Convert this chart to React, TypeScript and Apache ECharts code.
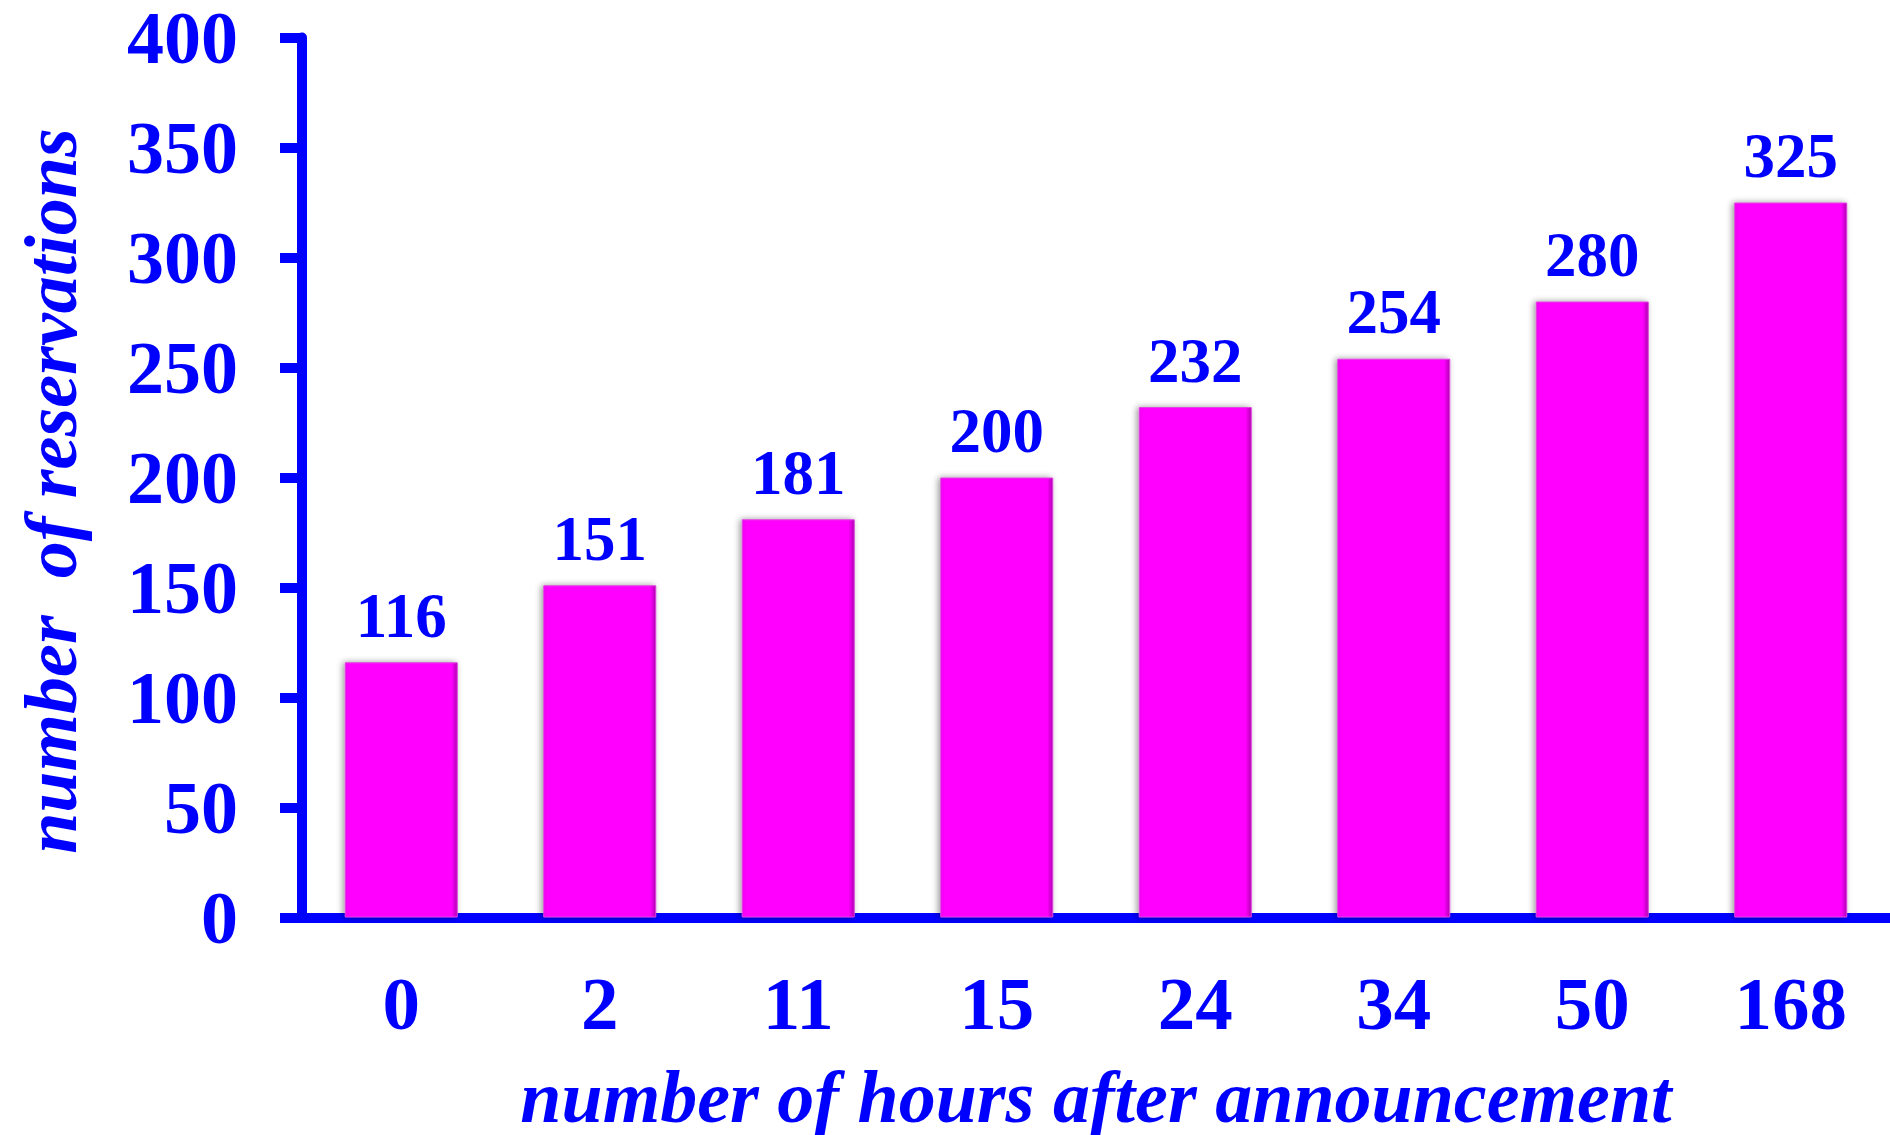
import React, { useEffect, useRef } from "react";
import * as echarts from "echarts";

const categories = ["0", "2", "11", "15", "24", "34", "50", "168"];
const reservations = [116, 151, 181, 200, 232, 254, 280, 325];
const yTicks = { min: 0, max: 400, interval: 50 };
const xTitle = "number of hours after announcement";
const yTitle = "number  of reservations";

const BLUE = "#0000FF";
const FONT = "'Liberation Serif', 'Times New Roman', serif";

export default function App() {
  const ref = useRef<HTMLDivElement>(null);
  useEffect(() => {
    document.body.style.margin = "0";
    const chart = echarts.init(ref.current!, null, { renderer: "svg" });
    chart.setOption({
      animation: false,
      backgroundColor: "#ffffff",
      grid: { left: 302, right: 0, top: 37.5, bottom: 217.5, containLabel: false },
      xAxis: {
        type: "category",
        data: categories,
        axisLine: { show: true, lineStyle: { color: BLUE, width: 10 } },
        axisTick: { show: false },
        axisLabel: {
          color: BLUE,
          fontFamily: FONT,
          fontWeight: "bold",
          fontSize: 75,
          lineHeight: 75,
          margin: 48,
        },
        splitLine: { show: false },
      },
      yAxis: {
        type: "value",
        min: yTicks.min,
        max: yTicks.max,
        interval: yTicks.interval,
        axisLine: { show: true, lineStyle: { color: BLUE, width: 10 } },
        axisTick: { show: true, length: 22, lineStyle: { color: BLUE, width: 10 } },
        axisLabel: {
          color: BLUE,
          fontFamily: FONT,
          fontWeight: "bold",
          fontSize: 74,
          lineHeight: 60,
          margin: 64,
        },
        splitLine: { show: false },
      },
      graphic: [
        {
          type: "text",
          x: 1096,
          y: 1097,
          style: {
            text: xTitle,
            fill: BLUE,
            font: `italic bold 74px ${FONT}`,
            lineHeight: 60,
            textAlign: "center",
            textVerticalAlign: "middle",
          },
        },
        {
          type: "text",
          x: 51,
          y: 491,
          rotation: Math.PI / 2,
          style: {
            text: yTitle,
            fill: BLUE,
            font: `italic bold 74px ${FONT}`,
            textAlign: "center",
            textVerticalAlign: "middle",
          },
        },
      ],
      series: [
        {
          type: "bar",
          data: reservations,
          barWidth: 113,
          itemStyle: {
            color: {
              type: "linear",
              x: 0,
              y: 0,
              x2: 1,
              y2: 0,
              colorStops: [
                { offset: 0, color: "#f000f0" },
                { offset: 0.04, color: "#ff00ff" },
                { offset: 0.95, color: "#ff00ff" },
                { offset: 1, color: "#b000b0" },
              ],
            },
            borderColor: "#e040e0",
            borderWidth: 1,
            shadowColor: "rgba(0,0,0,0.4)",
            shadowBlur: 6,
            shadowOffsetX: -2,
          },
          label: {
            show: true,
            position: "top",
            distance: 15,
            color: BLUE,
            fontFamily: FONT,
            fontWeight: "bold",
            fontSize: 63,
          },
        },
      ],
    });
    return () => chart.dispose();
  }, []);
  return (
    <div
      ref={ref}
      style={{ position: "absolute", left: 0, top: 0, width: 1890, height: 1135 }}
    />
  );
}
